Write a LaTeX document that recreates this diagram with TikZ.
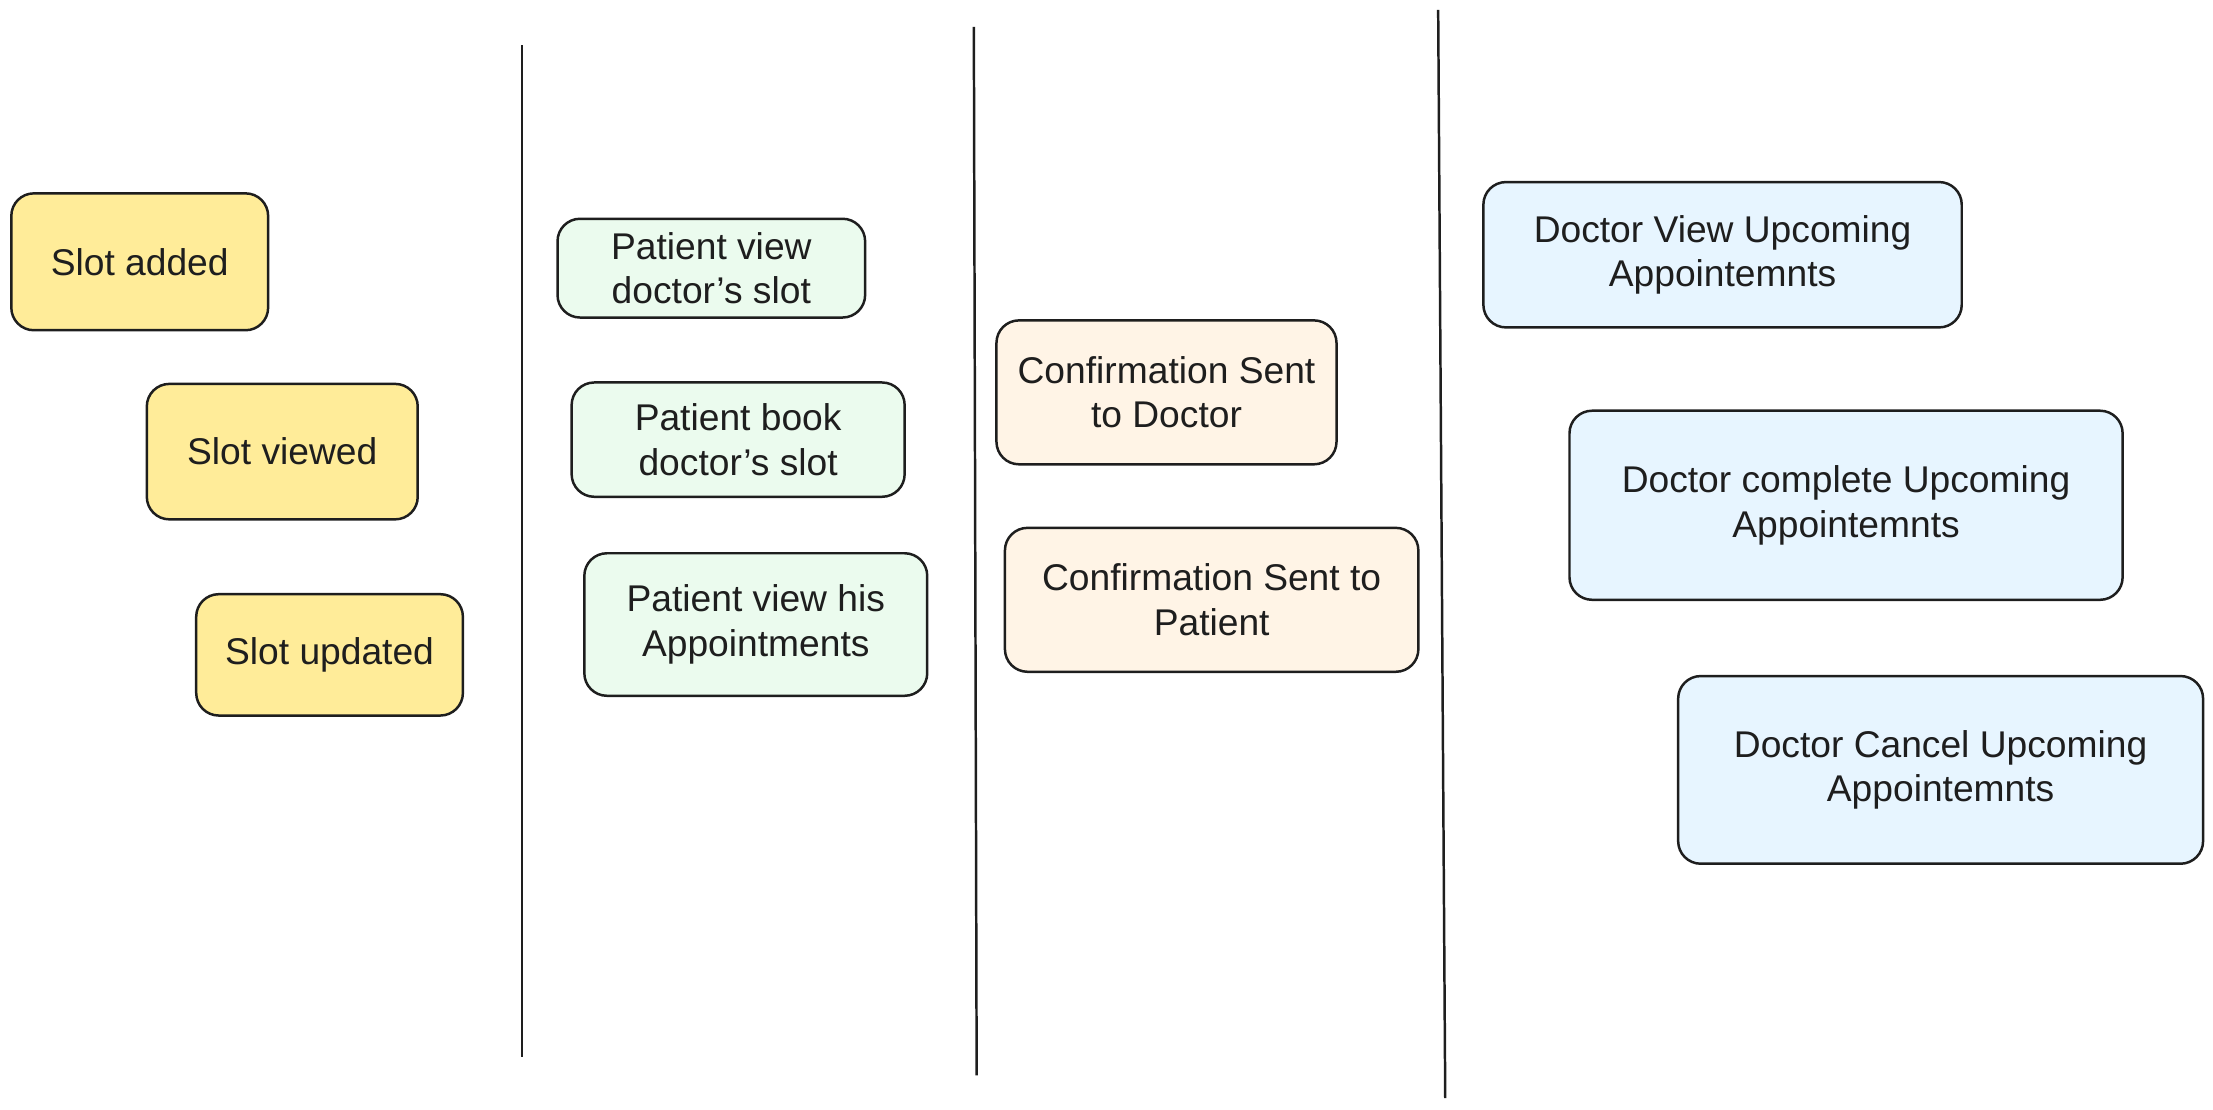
\documentclass[tikz,border=0pt]{standalone}
\usepackage{fontspec}
\setmainfont{Liberation Sans}
\usepackage{xcolor}
\definecolor{ink}{HTML}{1e1e1e}
\definecolor{slotfill}{HTML}{ffec99}
\definecolor{patfill}{HTML}{ebfbee}
\definecolor{conffill}{HTML}{fff4e6}
\definecolor{docfill}{HTML}{e7f5ff}
\tikzset{
    card/.style={draw=ink,line width=1pt,rounded corners=0.32cm,align=center,
        font=\fontsize{15}{18}\selectfont,text=ink},
    slot/.style={card,fill=slotfill},
    pat/.style={card,fill=patfill},
    conf/.style={card,fill=conffill},
    doc/.style={card,fill=docfill},
    lane/.style={draw=ink,line width=1pt}
}

\begin{document}
\begin{tikzpicture}[x=0.02cm,y=-0.02cm]
    \useasboundingbox (0,0) rectangle (1568,786);
    \node[slot,minimum width=3.64cm,minimum height=1.94cm] at(99,185.5)(added){Slot added};
    \node[slot,minimum width=3.84cm,minimum height=1.92cm] at(200,320)(viewed){Slot viewed};
    \node[slot,minimum width=3.78cm,minimum height=1.72cm] at(233.5,464)(updated){Slot updated};
    \node[pat,minimum width=4.36cm,minimum height=1.40cm] at(504,190)(pview){Patient view\\doctor's slot};
    \node[pat,minimum width=4.72cm,minimum height=1.62cm] at(523,311.5)(pbook){Patient book\\doctor's slot};
    \node[pat,minimum width=4.86cm,minimum height=2.02cm] at(535.5,442.5)(pappt){Patient view his\\Appointments};
    \node[conf,minimum width=4.82cm,minimum height=2.04cm] at(826.5,278)(cdoc){Confirmation Sent\\to Doctor};
    \node[conf,minimum width=5.86cm,minimum height=2.04cm] at(858.5,425)(cpat){Confirmation Sent to\\Patient};
    \node[doc,minimum width=6.78cm,minimum height=2.06cm] at(1220.5,180.5)(dview){Doctor View Upcoming\\Appointemnts};
    \node[doc,minimum width=7.84cm,minimum height=2.68cm] at(1308,358)(dcomp){Doctor complete Upcoming\\Appointemnts};
    \node[doc,minimum width=7.44cm,minimum height=2.66cm] at(1375,545.5)(dcancel){Doctor Cancel Upcoming\\Appointemnts};
    % lane dividers
    \draw[lane] (370,32) -- (370,749);
    \draw[lane] (690,19) -- (692,762);
    \draw[lane] (1019,7) -- (1024,778);
\end{tikzpicture}
\end{document}
